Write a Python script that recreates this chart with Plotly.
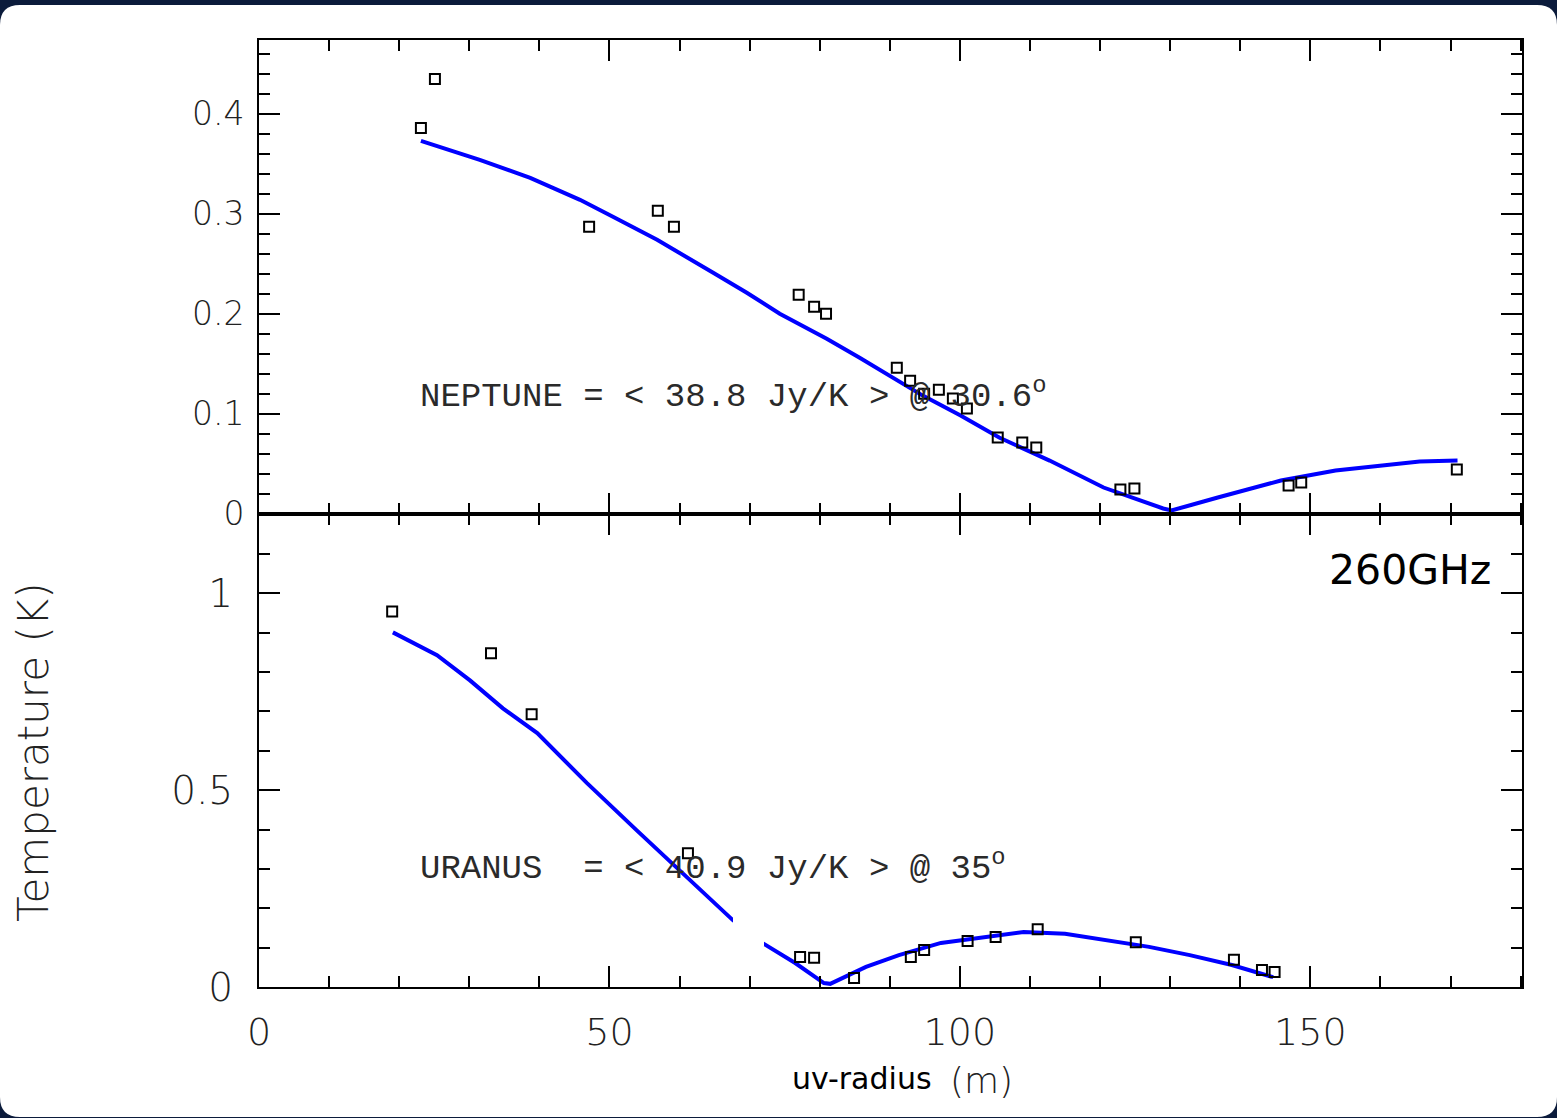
import plotly.graph_objects as go
from plotly.subplots import make_subplots

# ---- Neptune visibilities (uv-radius in m, temperature in K) ----
nep_x = [23.1, 25.1, 47.1, 56.9, 59.2, 77.0, 79.2, 80.9, 91.0, 92.9, 94.9,
         97.0, 99.0, 101.0, 105.4, 108.9, 110.9, 122.9, 124.9, 146.9, 148.7, 170.9]
nep_y = [0.386, 0.435, 0.287, 0.303, 0.287, 0.219, 0.207, 0.200, 0.146, 0.133, 0.120,
         0.124, 0.115, 0.105, 0.076, 0.071, 0.066, 0.024, 0.025, 0.028, 0.031, 0.044]

# Neptune disk model
nep_fit_x = [23.1, 31.5, 38.7, 45.8, 50.5, 56.8, 64.8, 69.6, 74.3, 81.0, 85.7, 94.7,
             100.1, 105.6, 112.8, 120.5, 129.0, 130.2, 136.8, 145.8, 153.6, 160.9, 165.6, 171.0]
nep_fit_y = [0.373, 0.354, 0.336, 0.314, 0.297, 0.274, 0.241, 0.221, 0.200, 0.175, 0.156, 0.118,
             0.098, 0.076, 0.053, 0.026, 0.005, 0.003, 0.016, 0.033, 0.043, 0.048, 0.052, 0.053]

# ---- Uranus visibilities ----
ura_x = [19.0, 33.1, 38.9, 61.2, 77.2, 79.2, 84.9, 93.0, 94.9, 101.1, 105.1, 111.1,
         125.1, 139.1, 143.1, 144.9]
ura_y = [0.954, 0.848, 0.693, 0.340, 0.076, 0.074, 0.023, 0.076, 0.094, 0.117, 0.127, 0.147,
         0.114, 0.069, 0.043, 0.038]

# Uranus disk model
ura_fit_x = [19.1, 25.4, 30.1, 34.8, 39.7, 46.8, 53.9, 62.5, 67.6, 71.8, 76.5, 80.6, 81.5,
             86.6, 91.3, 97.3, 103.1, 109.1, 115.0, 121.0, 127.0, 132.8, 138.8, 144.7]
ura_fit_y = [0.901, 0.843, 0.779, 0.708, 0.645, 0.518, 0.398, 0.254, 0.170, 0.112, 0.061, 0.010, 0.008,
             0.051, 0.081, 0.112, 0.127, 0.140, 0.135, 0.119, 0.102, 0.081, 0.056, 0.025]

nep_label = "NEPTUNE = < 38.8 Jy/K > @ 30.6<sup>o</sup>"
ura_label = "URANUS  = < 40.9 Jy/K > @ 35<sup>o</sup>"

W, H = 1557, 1118
ML, MR, MT, MB = 259, 35, 40, 131
PW, PH = W - ML - MR, H - MT - MB


def px(x):
    return (x - ML) / PW


def py(y):
    return (H - MB - y) / PH


fig = make_subplots(rows=2, cols=1, shared_xaxes=True, vertical_spacing=0)

line_style = dict(color="#0000ff", width=4)
mark_style = dict(symbol="square-open", size=10, color="black", line=dict(width=2, color="black"))

fig.add_trace(go.Scatter(x=nep_fit_x, y=nep_fit_y, mode="lines", line=line_style,
                         showlegend=False), row=1, col=1)
fig.add_trace(go.Scatter(x=nep_x, y=nep_y, mode="markers", marker=mark_style,
                         showlegend=False), row=1, col=1)
fig.add_trace(go.Scatter(x=ura_fit_x, y=ura_fit_y, mode="lines", line=line_style,
                         showlegend=False), row=2, col=1)
fig.add_trace(go.Scatter(x=ura_x, y=ura_y, mode="markers", marker=mark_style,
                         showlegend=False), row=2, col=1)

tick_font = dict(family="DejaVu Sans", size=33, color="#222222", weight=200)
axis_common = dict(showline=True, linecolor="black", linewidth=2, mirror="ticks",
                   ticks="inside", tickcolor="black", tickwidth=2, ticklen=21,
                   showgrid=False, zeroline=False)

fig.update_xaxes(range=[0, 180.2], tick0=0, dtick=50,
                 minor=dict(ticks="inside", dtick=10, ticklen=11, tickcolor="black", tickwidth=2),
                 **axis_common)
fig.update_xaxes(showticklabels=False, row=1, col=1)
fig.update_xaxes(showticklabels=True, tickfont=dict(tick_font, size=38),
                 ticklabelstandoff=10, row=2, col=1)

fig.update_yaxes(range=[0, 0.474], tick0=0, dtick=0.1, tickfont=tick_font,
                 ticklabelstandoff=6,
                 minor=dict(ticks="inside", dtick=0.02, ticklen=11, tickcolor="black", tickwidth=2),
                 row=1, col=1, **axis_common)
fig.update_yaxes(range=[0, 1.203], tick0=0, dtick=0.5, tickfont=dict(tick_font, size=39),
                 ticklabelstandoff=16,
                 minor=dict(ticks="inside", dtick=0.1, ticklen=11, tickcolor="black", tickwidth=2),
                 row=2, col=1, **axis_common)

label_font = dict(family="Liberation Mono", size=34, color="#2a2a2a")
fig.add_annotation(x=22.7, y=0.120, xref="x", yref="y", text=nep_label, showarrow=False,
                   xanchor="left", yanchor="middle", font=label_font)
fig.add_annotation(x=22.7, y=0.307, xref="x2", yref="y2", text=ura_label, showarrow=False,
                   xanchor="left", yanchor="middle", font=label_font)

fig.add_annotation(x=px(33), y=py(752), xref="paper", yref="paper", text="Temperature (K)",
                   textangle=-90, showarrow=False, xanchor="center", yanchor="middle",
                   font=dict(family="DejaVu Sans", size=42, color="#222222", weight=200))
fig.add_annotation(x=px(934), y=py(1078), xref="paper", yref="paper", text="uv-radius",
                   showarrow=False, xanchor="right", yanchor="middle",
                   font=dict(family="DejaVu Sans", size=30, color="black"))
fig.add_annotation(x=px(948), y=py(1080), xref="paper", yref="paper", text="(m)",
                   showarrow=False, xanchor="left", yanchor="middle",
                   font=dict(family="DejaVu Sans", size=36, color="#222222", weight=200))
fig.add_annotation(x=px(1410), y=py(570), xref="paper", yref="paper", text="260GHz",
                   showarrow=False, xanchor="center", yanchor="middle",
                   font=dict(family="DejaVu Sans", size=41, color="black"))

# rounded white card on a navy page
x0, x1, y0, y1, r = 0, W, 5, H - 1, 20


def card_path():
    pts = [
        f"M {px(x0 + r)} {py(y0)}",
        f"L {px(x1 - r)} {py(y0)}",
        f"Q {px(x1)} {py(y0)} {px(x1)} {py(y0 + r)}",
        f"L {px(x1)} {py(y1 - r)}",
        f"Q {px(x1)} {py(y1)} {px(x1 - r)} {py(y1)}",
        f"L {px(x0 + r)} {py(y1)}",
        f"Q {px(x0)} {py(y1)} {px(x0)} {py(y1 - r)}",
        f"L {px(x0)} {py(y0 + r)}",
        f"Q {px(x0)} {py(y0)} {px(x0 + r)} {py(y0)}",
        "Z",
    ]
    return " ".join(pts)


fig.add_shape(type="path", path=card_path(), xref="paper", yref="paper",
              fillcolor="white", line=dict(width=0), layer="below")

# erased patch over the Uranus model curve
fig.add_shape(type="rect", xref="paper", yref="paper", x0=px(733), x1=px(764),
              y0=py(946), y1=py(913), fillcolor="white", line=dict(width=0), layer="above")

fig.update_layout(width=W, height=H, margin=dict(l=ML, r=MR, t=MT, b=MB),
                  paper_bgcolor="#0b1b3b", plot_bgcolor="white")

fig.write_html("out.html")
